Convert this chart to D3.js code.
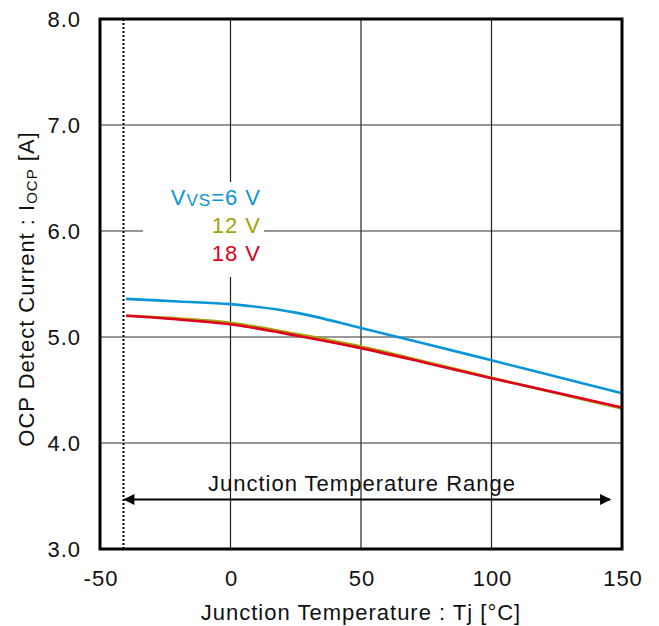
<!DOCTYPE html>
<html><head><meta charset="utf-8">
<script src="https://cdn.jsdelivr.net/npm/d3@7"></script>
<style>body{margin:0;background:#fff}svg{display:block}text{font-family:"Liberation Sans",Arial,sans-serif;letter-spacing:1px}</style>
</head><body>
<svg id="c" width="659" height="626"></svg>
<script>
const temps = [-40, -20, 0, 25, 50, 75, 100, 125, 150];
const vs6  = [5.36, 5.335, 5.31, 5.23, 5.085, 4.935, 4.78, 4.625, 4.47];
const vs12 = [5.20, 5.175, 5.135, 5.03, 4.91, 4.765, 4.615, 4.47, 4.325];
const vs18 = [5.20, 5.165, 5.12, 5.015, 4.895, 4.755, 4.61, 4.475, 4.335];
const xTicks = [-50, 0, 50, 100, 150];
const yTicks = [3.0, 4.0, 5.0, 6.0, 7.0, 8.0];
const rangeMin = -41, rangeMax = 145;
const seriesNames = ["V_VS=6 V", "12 V", "18 V"];
const colors = ["#0a96d6", "#a3a30c", "#e0001e"];

const svg = d3.select("#c");
const x = d3.scaleLinear().domain([-50, 150]).range([100, 622]);
const y = d3.scaleLinear().domain([3, 8]).range([549, 19]);
const FS = 22;

// gridlines
svg.append("g").selectAll("line").data(xTicks.slice(1, -1)).join("line")
  .attr("x1", d => x(d)).attr("x2", d => x(d)).attr("y1", y(8)).attr("y2", y(3))
  .attr("stroke", "#222").attr("stroke-width", 1.2);
svg.append("g").selectAll("line").data(yTicks.slice(1, -1)).join("line")
  .attr("x1", x(-50)).attr("x2", x(150)).attr("y1", d => y(d)).attr("y2", d => y(d))
  .attr("stroke", "#333").attr("stroke-width", 1.2);

// dotted line
svg.append("line").attr("x1", x(rangeMin)).attr("x2", x(rangeMin)).attr("y1", y(8)).attr("y2", y(3))
  .attr("stroke", "#000").attr("stroke-width", 2).attr("stroke-dasharray", "2,2");

// legend background box
svg.append("rect").attr("x", 143).attr("y", 182).attr("width", 121).attr("height", 95).attr("fill", "#fff");

// curves
const data = [vs6, vs12, vs18];
const line = d3.line().x((d, i) => x(temps[i])).y(d => y(d)).curve(d3.curveCatmullRom.alpha(0.5));
[1, 2, 0].forEach(k => {
  svg.append("path").attr("d", line(data[k])).attr("fill", "none")
    .attr("stroke", colors[k]).attr("stroke-width", 2.6);
});

// legend
const lg = svg.append("g").attr("font-size", FS).attr("text-anchor", "end");
const t0 = lg.append("text").attr("x", 261).attr("y", 205).attr("fill", colors[0]);
t0.append("tspan").text("V");
t0.append("tspan").attr("font-size", 17).attr("dy", 1).text("VS");
t0.append("tspan").attr("dy", -1).text("=6 V");
lg.append("text").attr("x", 261).attr("y", 233).attr("fill", colors[1]).text(seriesNames[1]);
lg.append("text").attr("x", 261).attr("y", 261).attr("fill", colors[2]).text(seriesNames[2]);

// arrow
const defs = svg.append("defs");
defs.append("marker").attr("id", "ah").attr("viewBox", "0 0 10 10").attr("refX", 9).attr("refY", 5)
  .attr("markerWidth", 7).attr("markerHeight", 5).attr("orient", "auto-start-reverse")
  .attr("markerUnits", "strokeWidth")
  .append("path").attr("d", "M0,0 L10,5 L0,10 Z").attr("fill", "#000");
svg.append("line").attr("x1", x(rangeMin) + 1).attr("x2", x(rangeMax) + 1).attr("y1", 499.5).attr("y2", 499.5)
  .attr("stroke", "#000").attr("stroke-width", 2.2)
  .attr("marker-start", "url(#ah)").attr("marker-end", "url(#ah)");
svg.append("text").attr("x", 362).attr("y", 491).attr("text-anchor", "middle").attr("font-size", FS)
  .attr("fill", "#111").text("Junction Temperature Range");

// frame
svg.append("rect").attr("x", x(-50)).attr("y", y(8)).attr("width", x(150) - x(-50)).attr("height", y(3) - y(8))
  .attr("fill", "none").attr("stroke", "#000").attr("stroke-width", 3);

// tick labels
svg.append("g").selectAll("text").data(xTicks).join("text")
  .attr("x", d => x(d) + 1).attr("y", 586).attr("text-anchor", "middle").attr("font-size", FS)
  .attr("fill", "#111").text(d => d);
svg.append("g").selectAll("text").data(yTicks).join("text")
  .attr("x", 81).attr("y", d => y(d) + 8).attr("text-anchor", "end").attr("font-size", FS)
  .attr("fill", "#111").text(d => d.toFixed(1));

// axis titles
svg.append("text").attr("x", 361).attr("y", 620).attr("text-anchor", "middle").attr("font-size", FS)
  .attr("fill", "#111").text("Junction Temperature : Tj [°C]");
const yt = svg.append("text").attr("transform", "translate(34,289) rotate(-90)").attr("text-anchor", "middle")
  .attr("font-size", FS).attr("fill", "#111");
yt.append("tspan").text("OCP Detect Current : I");
yt.append("tspan").attr("font-size", 15).attr("dy", 3).text("OCP");
yt.append("tspan").attr("dy", -3).text(" [A]");
</script>
</body></html>
